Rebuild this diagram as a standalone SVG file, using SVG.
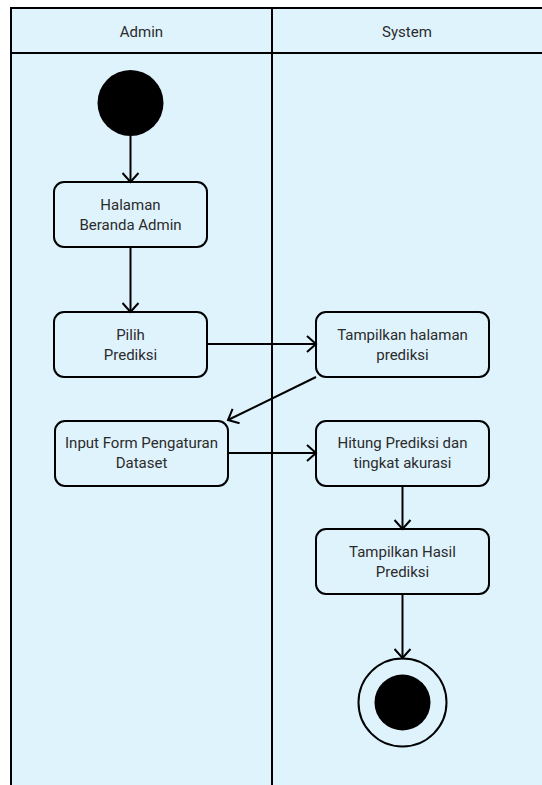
<svg xmlns="http://www.w3.org/2000/svg" width="542" height="785" viewBox="0 0 542 785">
<defs>
<marker id="arr" markerWidth="12" markerHeight="18" refX="10" refY="9" orient="auto" markerUnits="userSpaceOnUse" viewBox="0 0 12 18">
<path d="M1,1 L10,9 L1,17" fill="none" stroke="#000" stroke-width="2"/>
</marker>
<style>
.lane{fill:#dff3fd;stroke:#000;stroke-width:2}
.box{fill:#dff3fd;stroke:#000;stroke-width:2}
.t{font-family:Roboto,"Liberation Sans",sans-serif;font-size:15px;fill:#2b2b2b;text-anchor:middle}
.c{fill:none;stroke:#000;stroke-width:2;marker-end:url(#arr)}
</style>
</defs>
<g id="lanes">
<rect class="lane" x="11" y="8" width="540" height="790"/>
<line x1="11" y1="53" x2="545" y2="53" stroke="#000" stroke-width="2"/>
<line x1="272" y1="8" x2="272" y2="790" stroke="#000" stroke-width="2"/>
<text class="t" x="141.5" y="37">Admin</text>
<text class="t" x="407" y="37">System</text>
</g>
<g id="start"><circle cx="130.5" cy="103" r="33" fill="#000"/></g>
<g id="n1"><rect class="box" x="54" y="182" width="153" height="65" rx="10"/>
<text class="t" x="130.5" y="210">Halaman</text><text class="t" x="130.5" y="230">Beranda Admin</text></g>
<g id="n2"><rect class="box" x="54" y="312" width="153" height="65" rx="10"/>
<text class="t" x="130.5" y="340">Pilih</text><text class="t" x="130.5" y="360">Prediksi</text></g>
<g id="n3"><rect class="box" x="316" y="312" width="173" height="65" rx="10"/>
<text class="t" x="402.5" y="340">Tampilkan halaman</text><text class="t" x="402.5" y="360">prediksi</text></g>
<g id="n4"><rect class="box" x="55" y="421" width="173" height="65" rx="10"/>
<text class="t" x="141.5" y="448">Input Form Pengaturan</text><text class="t" x="141.5" y="468">Dataset</text></g>
<g id="n5"><rect class="box" x="316" y="421" width="173" height="65" rx="10"/>
<text class="t" x="402.5" y="448">Hitung Prediksi dan</text><text class="t" x="402.5" y="468">tingkat akurasi</text></g>
<g id="n6"><rect class="box" x="316" y="529" width="173" height="65" rx="10"/>
<text class="t" x="402.5" y="557">Tampilkan Hasil</text><text class="t" x="402.5" y="577">Prediksi</text></g>
<g id="end"><circle cx="402.5" cy="702.5" r="44" fill="none" stroke="#000" stroke-width="2"/><circle cx="402.5" cy="702.5" r="28" fill="#000"/></g>
<g id="connectors">
<line class="c" x1="130.5" y1="136" x2="130.5" y2="182"/>
<line class="c" x1="130.5" y1="247" x2="130.5" y2="312"/>
<line class="c" x1="207" y1="344" x2="316" y2="344"/>
<line class="c" x1="316" y1="377" x2="228" y2="420"/>
<line class="c" x1="228" y1="453" x2="316" y2="453"/>
<line class="c" x1="402.5" y1="486" x2="402.5" y2="529"/>
<line class="c" x1="402.5" y1="594" x2="402.5" y2="658"/>
</g>
</svg>
